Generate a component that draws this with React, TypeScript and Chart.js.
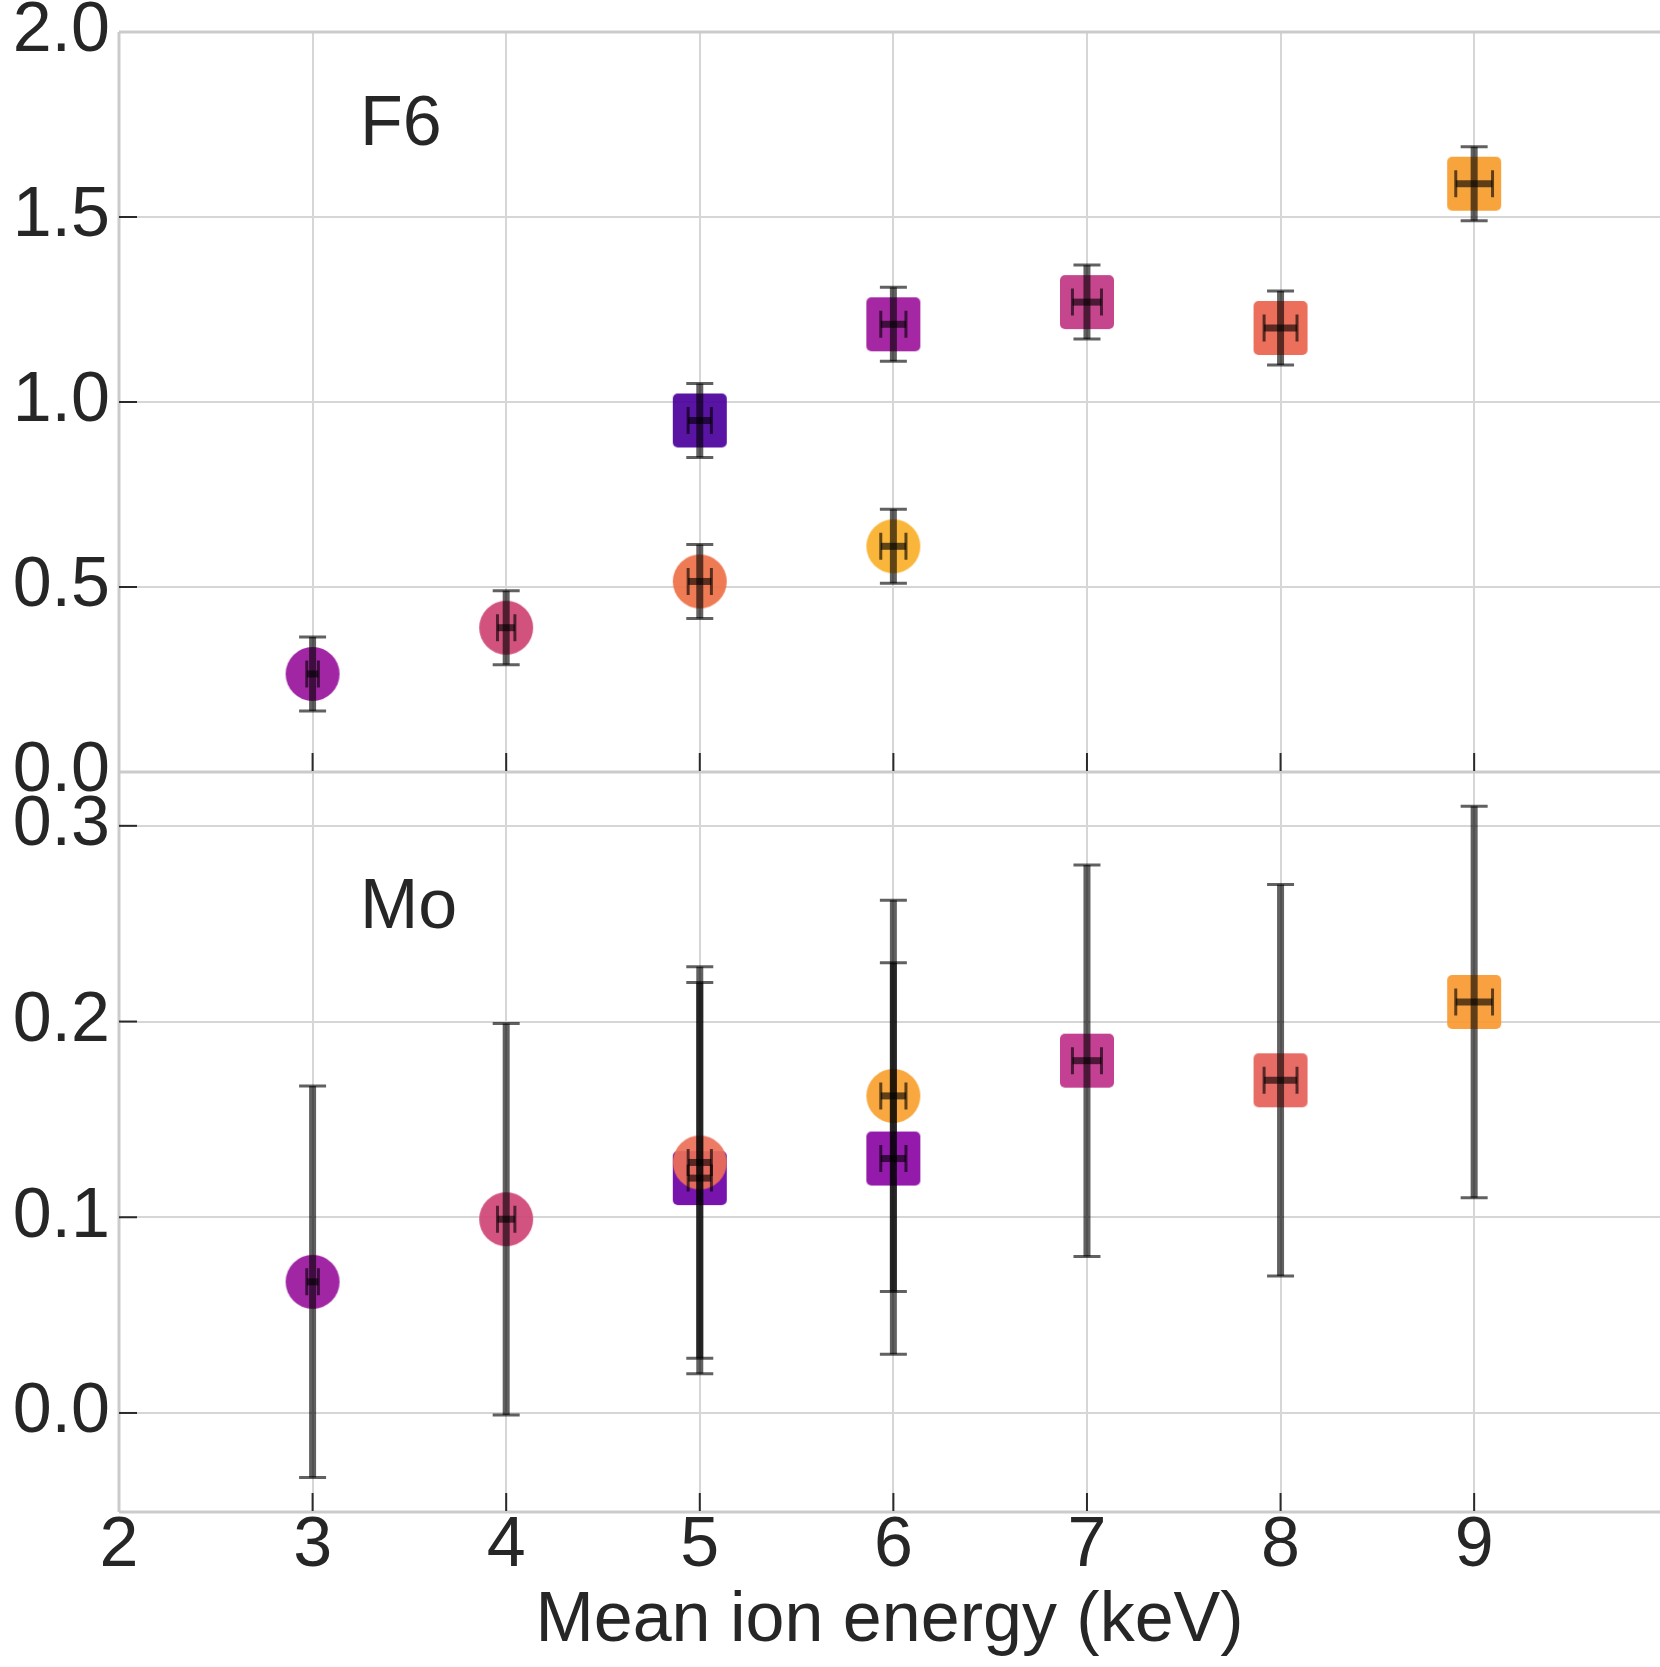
import React, { useEffect, useRef } from 'react';
import { Chart, registerables } from 'chart.js';

Chart.register(...registerables);

const FONT = "'Liberation Sans', Arial, Helvetica, sans-serif";
const TEXT = '#262626';

// ---- data ----
const circleEnergy = [3, 4, 5, 6];
const circleEnergyErr = [0.03, 0.045, 0.06, 0.065];
const squareEnergy = [5, 6, 7, 8, 9];
const squareEnergyErr = [0.06, 0.065, 0.075, 0.085, 0.095];

const f6Circle = [0.265, 0.39, 0.515, 0.61];
const f6CircleErr = [0.1, 0.1, 0.1, 0.1];
const f6Square = [0.95, 1.21, 1.27, 1.2, 1.59];
const f6SquareErr = [0.1, 0.1, 0.1, 0.1, 0.1];

const moCircle = [0.067, 0.099, 0.128, 0.162];
const moCircleErr = [0.1, 0.1, 0.1, 0.1];
const moSquare = [0.12, 0.13, 0.18, 0.17, 0.21];
const moSquareErr = [0.1, 0.1, 0.1, 0.1, 0.1];

const xTickValues = [2, 3, 4, 5, 6, 7, 8, 9];

// ---- styles ----
const f6CircleColors = ['#9a169d', '#cd4673', '#ee7148', '#f9b02b'];
const f6SquareColors = ['#4c029c', '#9e179c', '#c13884', '#e9644e', '#f89d2e'];
const moCircleColors = ['#9a169d', '#cf4676', '#ec7058', '#f9a030'];
const moSquareColors = ['#6c02a6', '#8b09a5', '#c0318a', '#e6615a', '#f99a31'];

function makeMarker(shape: 'circle' | 'square', color: string): HTMLCanvasElement {
  const size = 56;
  const c = document.createElement('canvas');
  c.width = size;
  c.height = size;
  const g = c.getContext('2d') as CanvasRenderingContext2D;
  g.globalAlpha = 0.93;
  g.fillStyle = color;
  g.beginPath();
  if (shape === 'circle') {
    g.arc(28, 28, 27, 0, Math.PI * 2);
  } else {
    const x = 1, y = 1, w = 54, h = 54, r = 5;
    g.moveTo(x + r, y);
    g.lineTo(x + w - r, y);
    g.arcTo(x + w, y, x + w, y + r, r);
    g.lineTo(x + w, y + h - r);
    g.arcTo(x + w, y + h, x + w - r, y + h, r);
    g.lineTo(x + r, y + h);
    g.arcTo(x, y + h, x, y + h - r, r);
    g.lineTo(x, y + r);
    g.arcTo(x, y, x + r, y, r);
    g.closePath();
  }
  g.fill();
  return c;
}

const errorBarPlugin = {
  id: 'errorBars',
  afterDatasetsDraw(chart: any) {
    const ctx = chart.ctx;
    const xs = chart.scales.x;
    chart.data.datasets.forEach((d: any) => {
      const ys = chart.scales[d.yAxisID];
      ctx.save();
      ctx.strokeStyle = 'rgba(0,0,0,0.62)';
      ctx.lineCap = 'butt';
      d.data.forEach((p: any) => {
        const px = xs.getPixelForValue(p.x);
        const py = ys.getPixelForValue(p.y);
        const y1 = ys.getPixelForValue(p.y + p.yErr);
        const y2 = ys.getPixelForValue(p.y - p.yErr);
        const x1 = xs.getPixelForValue(p.x - p.xErr);
        const x2 = xs.getPixelForValue(p.x + p.xErr);
        ctx.lineWidth = 7;
        ctx.beginPath();
        ctx.moveTo(px, y1);
        ctx.lineTo(px, y2);
        ctx.stroke();
        ctx.beginPath();
        ctx.moveTo(x1, py);
        ctx.lineTo(x2, py);
        ctx.stroke();
        ctx.lineWidth = 3;
        const cap = 13.5;
        ctx.beginPath();
        ctx.moveTo(px - cap, y1);
        ctx.lineTo(px + cap, y1);
        ctx.moveTo(px - cap, y2);
        ctx.lineTo(px + cap, y2);
        ctx.stroke();
        ctx.beginPath();
        ctx.moveTo(x1, py - cap);
        ctx.lineTo(x1, py + cap);
        ctx.moveTo(x2, py - cap);
        ctx.lineTo(x2, py + cap);
        ctx.stroke();
      });
      ctx.restore();
    });
  },
};

const decorPlugin = {
  id: 'decor',
  beforeDatasetsDraw(chart: any) {
    const ctx = chart.ctx;
    const area = chart.chartArea;
    const xs = chart.scales.x;
    const yt = chart.scales.yTop;
    const yb = chart.scales.yBot;
    const L = area.left;
    const R = area.right;
    const line = (a: number, b: number, c: number, d: number) => {
      ctx.beginPath();
      ctx.moveTo(a, b);
      ctx.lineTo(c, d);
      ctx.stroke();
    };
    ctx.save();
    ctx.strokeStyle = '#cbcbcb';
    ctx.lineWidth = 3;
    line(L, yt.top, L, yb.bottom);
    line(L, yt.top, R, yt.top);
    line(L, yt.bottom, R, yt.bottom);
    line(L, yb.bottom, R, yb.bottom);
    ctx.strokeStyle = '#2a2a2a';
    ctx.lineWidth = 2;
    [yt, yb].forEach((s: any) => {
      s.ticks.forEach((t: any) => {
        const p = s.getPixelForValue(t.value);
        if (p > s.top + 3 && p < s.bottom - 3) line(L, p, L + 18, p);
      });
    });
    xs.ticks.forEach((t: any) => {
      const p = xs.getPixelForValue(t.value);
      if (p > L + 3 && p < R - 3) {
        line(p, yt.bottom - 1, p, yt.bottom - 19);
        line(p, yb.bottom - 1, p, yb.bottom - 19);
      }
    });
    ctx.restore();
  },
  afterDraw(chart: any) {
    const ctx = chart.ctx;
    const xs = chart.scales.x;
    const yt = chart.scales.yTop;
    const yb = chart.scales.yBot;
    ctx.save();
    ctx.fillStyle = TEXT;
    ctx.font = `70px ${FONT}`;
    ctx.textAlign = 'left';
    ctx.textBaseline = 'alphabetic';
    ctx.fillText('F6', xs.getPixelForValue(3.245), yt.getPixelForValue(1.695));
    ctx.fillText('Mo', xs.getPixelForValue(3.245), yb.getPixelForValue(0.248));
    ctx.restore();
  },
};

function points(xs: number[], ys: number[], xe: number[], ye: number[]) {
  return xs.map((x, i) => ({ x, y: ys[i], xErr: xe[i], yErr: ye[i] }));
}

export default function App() {
  const ref = useRef<HTMLCanvasElement | null>(null);

  useEffect(() => {
    if (!ref.current) return;
    const grid = { color: '#d6d6d6', lineWidth: 2, drawTicks: false };
    const yTicks = (step: number) => ({
      stepSize: step,
      includeBounds: false,
      autoSkip: false,
      padding: 9,
      color: TEXT,
      font: { family: FONT, size: 70, lineHeight: 0.9 },
      callback: (v: any) => Number(v).toFixed(1),
    });
    const yFit = (s: any) => {
      s.width = 119;
      s.paddingTop = 0;
      s.paddingBottom = 0;
    };
    const mk = (label: string, axis: string, xs: number[], ys: number[], xe: number[], ye: number[], shape: 'circle' | 'square', colors: string[]) => ({
      label,
      yAxisID: axis,
      data: points(xs, ys, xe, ye),
      pointStyle: colors.map((c) => makeMarker(shape, c)),
      pointRadius: 27,
      pointHoverRadius: 27,
      showLine: false,
    });

    const chart = new Chart(ref.current, {
      type: 'scatter',
      data: {
        datasets: [
          mk('F6 circles', 'yTop', circleEnergy, f6Circle, circleEnergyErr, f6CircleErr, 'circle', f6CircleColors),
          mk('F6 squares', 'yTop', squareEnergy, f6Square, squareEnergyErr, f6SquareErr, 'square', f6SquareColors),
          mk('Mo circles', 'yBot', circleEnergy, moCircle, circleEnergyErr, moCircleErr, 'circle', moCircleColors),
          mk('Mo squares', 'yBot', squareEnergy, moSquare, squareEnergyErr, moSquareErr, 'square', moSquareColors),
        ] as any,
      },
      options: {
        animation: false,
        responsive: false,
        devicePixelRatio: 1,
        layout: { autoPadding: false, padding: { top: 32, right: 0, bottom: 0, left: 0 } },
        plugins: { legend: { display: false }, tooltip: { enabled: false } },
        scales: {
          x: {
            type: 'linear',
            position: 'bottom',
            min: 2,
            max: 9.96,
            afterBuildTicks: (s: any) => {
              s.ticks = xTickValues.map((v) => ({ value: v }));
            },
            ticks: {
              autoSkip: false,
              maxRotation: 0,
              padding: 0,
              color: TEXT,
              font: { family: FONT, size: 70, lineHeight: 1 },
              callback: (v: any) => String(v),
            },
            grid,
            border: { display: false },
            title: {
              display: true,
              text: 'Mean ion energy (keV)',
              color: TEXT,
              font: { family: FONT, size: 70, lineHeight: 1.2 },
              padding: { top: 0, bottom: 3 },
            },
            afterFit: (s: any) => {
              s.height = 155;
              s.paddingLeft = 0;
              s.paddingRight = 0;
            },
          },
          yBot: {
            type: 'linear',
            position: 'left',
            stack: 'panels',
            stackWeight: 1,
            min: -0.0506,
            max: 0.3275,
            ticks: yTicks(0.1),
            grid,
            border: { display: false },
            afterFit: yFit,
          },
          yTop: {
            type: 'linear',
            position: 'left',
            stack: 'panels',
            stackWeight: 1,
            min: 0,
            max: 2,
            ticks: yTicks(0.5),
            grid,
            border: { display: false },
            afterFit: yFit,
          },
        } as any,
      },
      plugins: [decorPlugin, errorBarPlugin],
    });
    return () => chart.destroy();
  }, []);

  return (
    <div style={{ position: 'absolute', left: 0, top: 0, width: 1660, height: 1667, background: '#ffffff' }}>
      <canvas ref={ref} width={1660} height={1667} style={{ display: 'block' }} />
    </div>
  );
}
